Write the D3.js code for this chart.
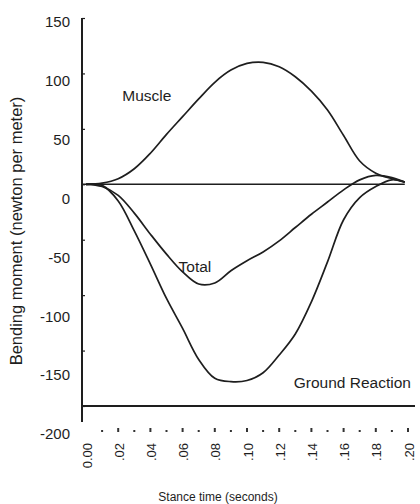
<!DOCTYPE html>
<html>
<head>
<meta charset="utf-8">
<script src="https://cdn.jsdelivr.net/npm/d3@7"></script>
<style>
  body { margin: 0; background: #fff; }
  text { font-family: "Liberation Sans", Arial, sans-serif; fill: #1e1e1e; }
</style>
</head>
<body>
<div id="chart"></div>
<script>
// stance time samples (seconds)
const times = [0, 0.01, 0.02, 0.03, 0.04, 0.05, 0.06, 0.07, 0.08, 0.09, 0.10,
               0.11, 0.12, 0.13, 0.14, 0.15, 0.16, 0.17, 0.18, 0.19, 0.198];

// bending moment values
const muscle = [0, 1, 5, 14, 28, 45, 61, 77, 92, 103, 109,
                110, 106, 97, 84, 67, 44, 21, 10, 5, 2];
const total = [0, -2, -10, -26, -45, -63, -79, -90, -89, -78, -69,
               -61, -51, -39, -27, -16, -5, 4, 8, 6, 2];
const groundReaction = [0, -1, -15, -42, -72, -103, -130, -158, -175, -178, -177,
                        -170, -154, -135, -106, -70, -32, -12, -2, 4, 2];

const yTicks = [150, 100, 50, 0, -50, -100, -150, -200];
const xTicks = [0, 0.02, 0.04, 0.06, 0.08, 0.10, 0.12, 0.14, 0.16, 0.18, 0.20];
const xTickLabels = ["0.00", ".02", ".04", ".06", ".08", ".10", ".12", ".14", ".16", ".18", ".20"];
const xDots = [0.01, 0.02, 0.03, 0.04, 0.05, 0.06, 0.07, 0.08, 0.09, 0.10,
               0.11, 0.12, 0.13, 0.14, 0.15, 0.16, 0.17, 0.18, 0.19, 0.20];

// curve labels: [text, time, value]
const curveLabels = [
    ["Muscle", 0.0225, 75],
    ["Total", 0.0575, -79],
    ["Ground Reaction", 0.129, -184]
];

const width = 420;
const height = 504;
const axisX = 82;

const svg = d3.select("#chart")
    .append("svg")
    .attr("width", width)
    .attr("height", height);

const x = d3.scaleLinear().domain([0, 0.2]).range([86, 408]);
const y = d3.scaleLinear().domain([-200, 150]).range([406, 18]);
// printed tick numbers sit a little lower than the ticks in the scanned figure
const yLabel = d3.scaleLinear().domain([-200, 150]).range([434, 22]);

// y axis line (runs a bit past -200)
svg.append("line")
    .attr("x1", axisX).attr("x2", axisX)
    .attr("y1", y(150)).attr("y2", y(-200) + 16)
    .attr("stroke", "#1e1e1e")
    .attr("stroke-width", 2);

// small inward ticks
svg.append("g")
    .attr("transform", `translate(${axisX},0)`)
    .call(d3.axisRight(y).tickValues(yTicks).tickSize(3).tickFormat(""))
    .call(g => g.select(".domain").remove())
    .selectAll("line").attr("stroke", "#1e1e1e").attr("stroke-width", 1.2);

// tick numbers
svg.append("g")
    .attr("transform", "translate(70,0)")
    .call(d3.axisLeft(yLabel).tickValues(yTicks).tickSize(0).tickPadding(0).tickFormat(d => String(d)))
    .call(g => g.select(".domain").remove())
    .selectAll("text")
    .attr("font-size", 15)
    .attr("font-family", "'Liberation Sans', Arial, sans-serif")
    .attr("fill", "#1e1e1e");

// baseline at -200
svg.append("line")
    .attr("x1", axisX).attr("x2", 415)
    .attr("y1", y(-200)).attr("y2", y(-200))
    .attr("stroke", "#1e1e1e")
    .attr("stroke-width", 2);

// zero line
svg.append("line")
    .attr("x1", axisX).attr("x2", x(times[times.length - 1]))
    .attr("y1", y(0)).attr("y2", y(0))
    .attr("stroke", "#1e1e1e")
    .attr("stroke-width", 1.6);

// dotted x tick marks
svg.append("g")
    .selectAll("rect")
    .data(xDots)
    .join("rect")
    .attr("x", d => x(d) - 1)
    .attr("y", d => Math.round(d * 100) % 2 === 0 ? 428 : 430)
    .attr("width", 2)
    .attr("height", d => Math.round(d * 100) % 2 === 0 ? 4 : 2)
    .attr("fill", "#333");

// x tick labels (rotated)
svg.append("g")
    .selectAll("text")
    .data(xTicks)
    .join("text")
    .attr("transform", d => `translate(${x(d) + 1},443) rotate(-90)`)
    .attr("text-anchor", "end")
    .attr("dy", "0.35em")
    .attr("font-size", 13)
    .text((d, i) => xTickLabels[i]);

// curves
const line = d3.line()
    .x((d, i) => x(times[i]))
    .y(d => y(d))
    .curve(d3.curveCatmullRom.alpha(0.5));

[muscle, total, groundReaction].forEach(series => {
    svg.append("path")
        .datum(series)
        .attr("d", line)
        .attr("fill", "none")
        .attr("stroke", "#1e1e1e")
        .attr("stroke-width", 1.7);
});

// curve labels
svg.append("g")
    .selectAll("text")
    .data(curveLabels)
    .join("text")
    .attr("x", d => x(d[1]))
    .attr("y", d => y(d[2]))
    .attr("font-size", 15.5)
    .text(d => d[0]);

// axis titles
svg.append("text")
    .attr("transform", "translate(22,231) rotate(-90)")
    .attr("text-anchor", "middle")
    .attr("font-size", 16.5)
    .text("Bending moment (newton per meter)");

svg.append("text")
    .attr("x", 218)
    .attr("y", 501)
    .attr("text-anchor", "middle")
    .attr("font-size", 12)
    .text("Stance time (seconds)");
</script>
</body>
</html>
